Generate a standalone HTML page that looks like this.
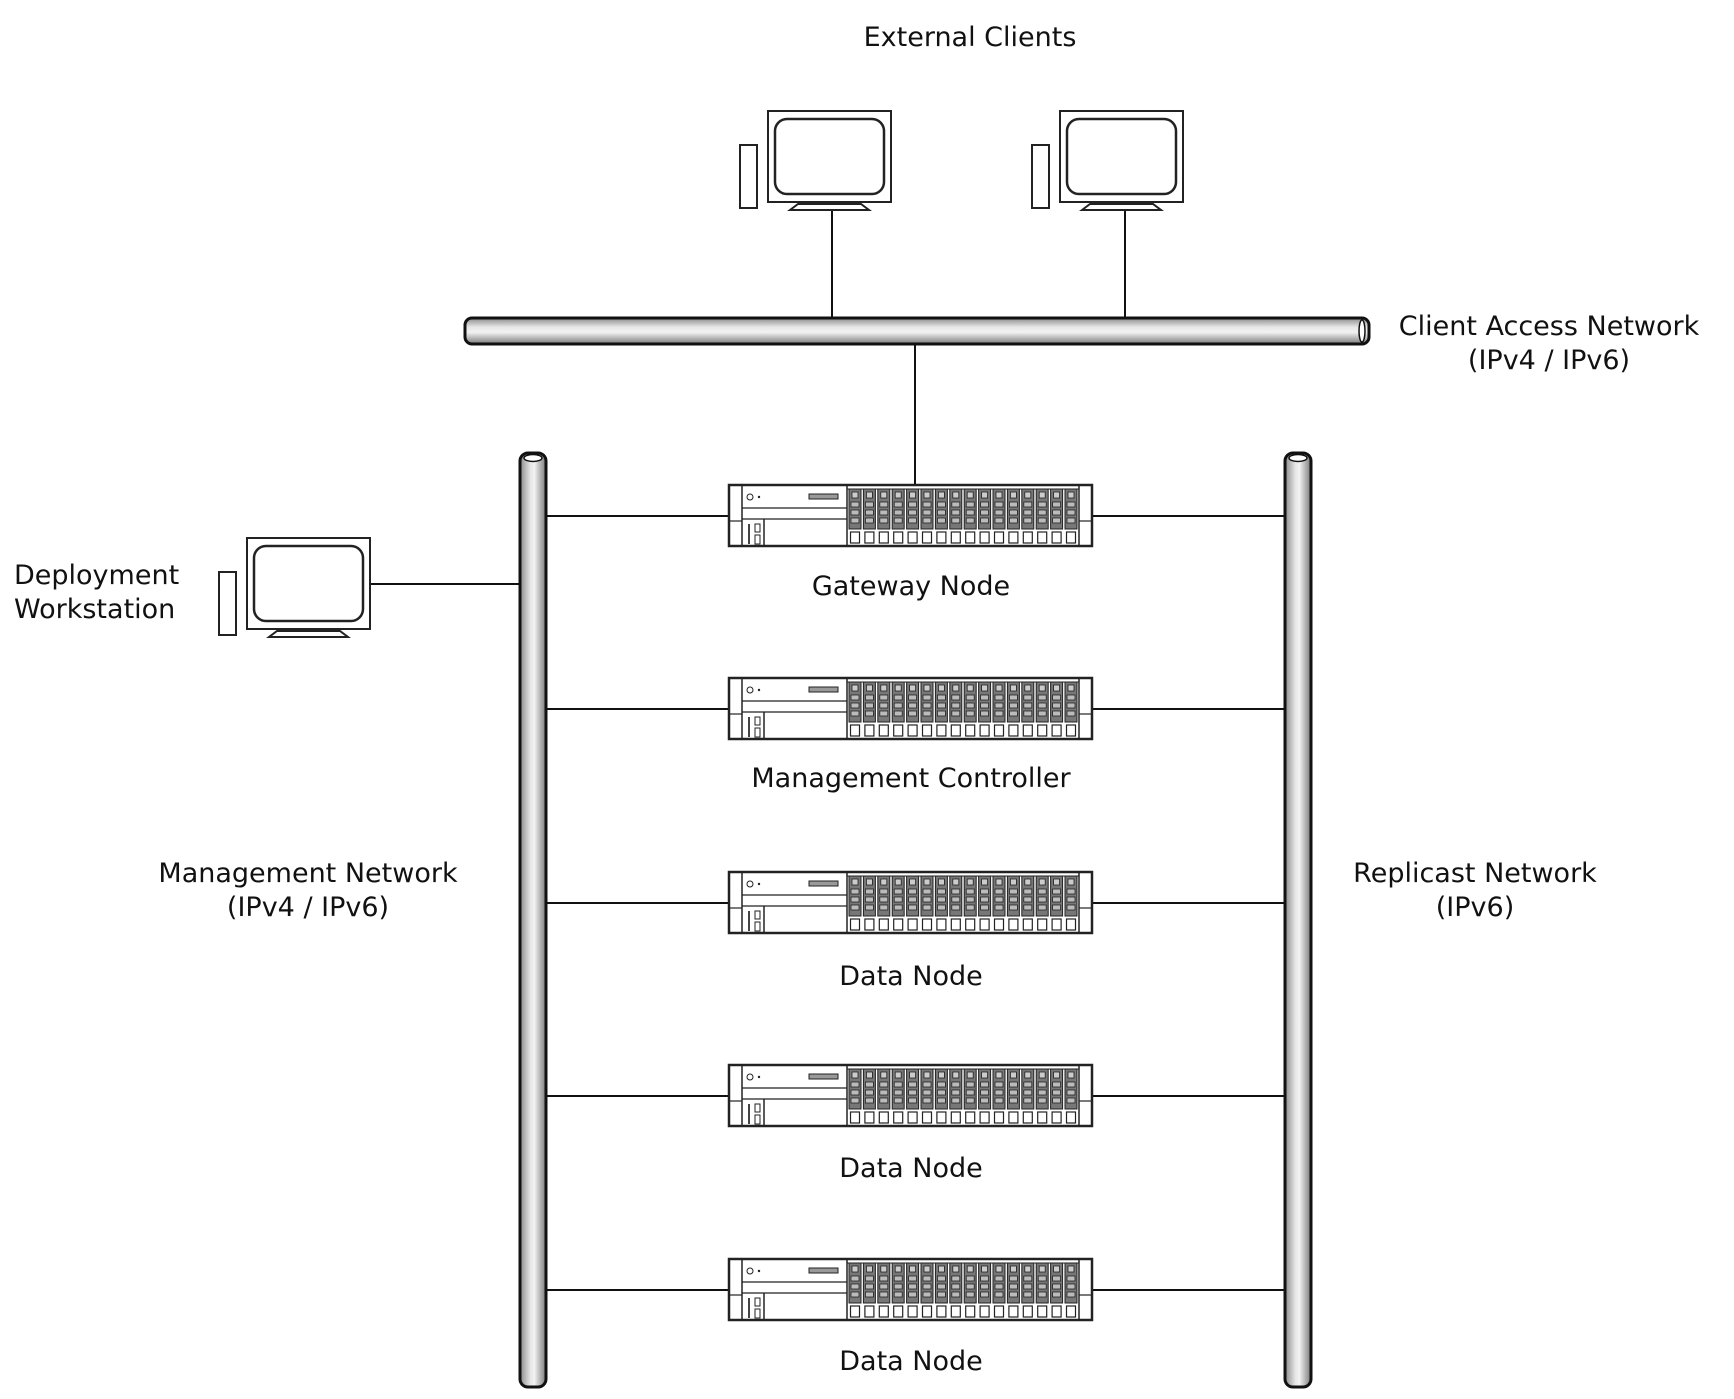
<!DOCTYPE html>
<html><head><meta charset="utf-8"><style>
html,body{margin:0;padding:0;background:#fff;}
svg{display:block;}
text{font-family:"DejaVu Sans","Liberation Sans",sans-serif;font-size:27px;fill:#111;}
</style></head><body>
<svg width="1734" height="1399" viewBox="0 0 1734 1399" xmlns="http://www.w3.org/2000/svg">
<defs>
<linearGradient id="hg" x1="0" y1="0" x2="0" y2="1">
<stop offset="0" stop-color="#8a8a8a"/><stop offset="0.35" stop-color="#e6e6e6"/><stop offset="0.55" stop-color="#f2f2f2"/><stop offset="1" stop-color="#7a7a7a"/></linearGradient>
<linearGradient id="vg" x1="0" y1="0" x2="1" y2="0">
<stop offset="0" stop-color="#8a8a8a"/><stop offset="0.4" stop-color="#e6e6e6"/><stop offset="0.55" stop-color="#f2f2f2"/><stop offset="1" stop-color="#7a7a7a"/></linearGradient>
<g id="drive">
<rect x="1" y="5" width="12" height="40" fill="#777" stroke="#222" stroke-width="1"/>
<rect x="4" y="8" width="6" height="6" fill="#ccc" stroke="#222" stroke-width="0.8"/>
<rect x="3" y="18" width="8" height="5" fill="#bbb" stroke="#222" stroke-width="0.8"/>
<rect x="3" y="26" width="8" height="5" fill="#bbb" stroke="#222" stroke-width="0.8"/>
<rect x="3" y="34" width="8" height="5" fill="#bbb" stroke="#222" stroke-width="0.8"/>
<rect x="2.5" y="48" width="9" height="11" fill="#fff" stroke="#222" stroke-width="1.2"/>
</g>
<g id="srv">
<rect x="1" y="1" width="363" height="61" fill="#fff" stroke="#222" stroke-width="2.5"/>
<line x1="14" y1="1" x2="14" y2="62" stroke="#222" stroke-width="1.5"/>
<line x1="351" y1="1" x2="351" y2="62" stroke="#222" stroke-width="1.5"/>
<line x1="1" y1="37" x2="14" y2="37" stroke="#222" stroke-width="1.2"/>
<line x1="351" y1="37" x2="364" y2="37" stroke="#222" stroke-width="1.2"/>
<line x1="14" y1="24" x2="119" y2="24" stroke="#222" stroke-width="1.2"/>
<line x1="14" y1="35" x2="119" y2="35" stroke="#222" stroke-width="1.2"/>
<line x1="36" y1="35" x2="36" y2="62" stroke="#222" stroke-width="1.5"/>
<line x1="119" y1="1" x2="119" y2="62" stroke="#222" stroke-width="1.5"/>
<line x1="119" y1="5" x2="351" y2="5" stroke="#222" stroke-width="1"/>
<circle cx="22" cy="13" r="3" fill="none" stroke="#222" stroke-width="1"/>
<circle cx="31" cy="13" r="1.2" fill="#222"/>
<rect x="81" y="10" width="29" height="5" fill="#999" stroke="#222" stroke-width="1"/>
<rect x="20" y="40" width="2" height="20" fill="#444"/>
<rect x="27" y="40" width="5" height="8" fill="#fff" stroke="#222" stroke-width="1"/>
<rect x="27" y="51" width="5" height="9" fill="#fff" stroke="#222" stroke-width="1"/>
<use href="#drive" x="120"/><use href="#drive" x="134.4"/><use href="#drive" x="148.8"/><use href="#drive" x="163.2"/>
<use href="#drive" x="177.6"/><use href="#drive" x="192"/><use href="#drive" x="206.4"/><use href="#drive" x="220.8"/>
<use href="#drive" x="235.2"/><use href="#drive" x="249.6"/><use href="#drive" x="264"/><use href="#drive" x="278.4"/>
<use href="#drive" x="292.8"/><use href="#drive" x="307.2"/><use href="#drive" x="321.6"/><use href="#drive" x="336"/>
</g>
<g id="pc">
<rect x="0" y="34" width="17" height="63" fill="#fff" stroke="#222" stroke-width="2"/>
<rect x="28" y="0" width="123" height="91" fill="#fff" stroke="#222" stroke-width="2"/>
<rect x="35" y="8" width="109" height="75" rx="12" fill="#fff" stroke="#222" stroke-width="2.5"/>
<path d="M50 99 L58 93 L121 93 L129 99 Z" fill="#fff" stroke="#222" stroke-width="2"/>
</g>
</defs>

<text x="970" y="46" text-anchor="middle">External Clients</text>

<line x1="832" y1="202" x2="832" y2="320" stroke="#111" stroke-width="2"/>
<line x1="1125" y1="202" x2="1125" y2="320" stroke="#111" stroke-width="2"/>
<use href="#pc" x="740" y="111"/>
<use href="#pc" x="1032" y="111"/>

<line x1="915" y1="342" x2="915" y2="486" stroke="#111" stroke-width="2"/>
<rect x="465" y="318" width="904" height="26" rx="7" fill="url(#hg)" stroke="#111" stroke-width="3"/>
<ellipse cx="1362" cy="331" rx="3" ry="11" fill="#fff" stroke="#111" stroke-width="1.5"/>
<text x="1549" y="335" text-anchor="middle">Client Access Network</text>
<text x="1549" y="369" text-anchor="middle">(IPv4 / IPv6)</text>

<g stroke="#111" stroke-width="2">
<line x1="369" y1="584" x2="520" y2="584"/>
<line x1="546" y1="516" x2="730" y2="516"/><line x1="1092" y1="516" x2="1285" y2="516"/>
<line x1="546" y1="709" x2="730" y2="709"/><line x1="1092" y1="709" x2="1285" y2="709"/>
<line x1="546" y1="903" x2="730" y2="903"/><line x1="1092" y1="903" x2="1285" y2="903"/>
<line x1="546" y1="1096" x2="730" y2="1096"/><line x1="1092" y1="1096" x2="1285" y2="1096"/>
<line x1="546" y1="1290" x2="730" y2="1290"/><line x1="1092" y1="1290" x2="1285" y2="1290"/>
</g>

<rect x="520" y="453" width="26" height="934" rx="8" fill="url(#vg)" stroke="#111" stroke-width="3"/>
<ellipse cx="533" cy="458" rx="9" ry="3.5" fill="#fff" stroke="#111" stroke-width="1.5"/>
<rect x="1285" y="453" width="26" height="934" rx="8" fill="url(#vg)" stroke="#111" stroke-width="3"/>
<ellipse cx="1298" cy="458" rx="9" ry="3.5" fill="#fff" stroke="#111" stroke-width="1.5"/>

<use href="#pc" x="219" y="538"/>
<text x="14" y="584">Deployment</text>
<text x="14" y="618">Workstation</text>

<use href="#srv" x="728" y="484"/>
<use href="#srv" x="728" y="677"/>
<use href="#srv" x="728" y="871"/>
<use href="#srv" x="728" y="1064"/>
<use href="#srv" x="728" y="1258"/>

<text x="911" y="595" text-anchor="middle">Gateway Node</text>
<text x="911" y="787" text-anchor="middle">Management Controller</text>
<text x="911" y="985" text-anchor="middle">Data Node</text>
<text x="911" y="1177" text-anchor="middle">Data Node</text>
<text x="911" y="1370" text-anchor="middle">Data Node</text>

<text x="308" y="882" text-anchor="middle">Management Network</text>
<text x="308" y="916" text-anchor="middle">(IPv4 / IPv6)</text>
<text x="1475" y="882" text-anchor="middle">Replicast Network</text>
<text x="1475" y="916" text-anchor="middle">(IPv6)</text>
</svg>
</body></html>
